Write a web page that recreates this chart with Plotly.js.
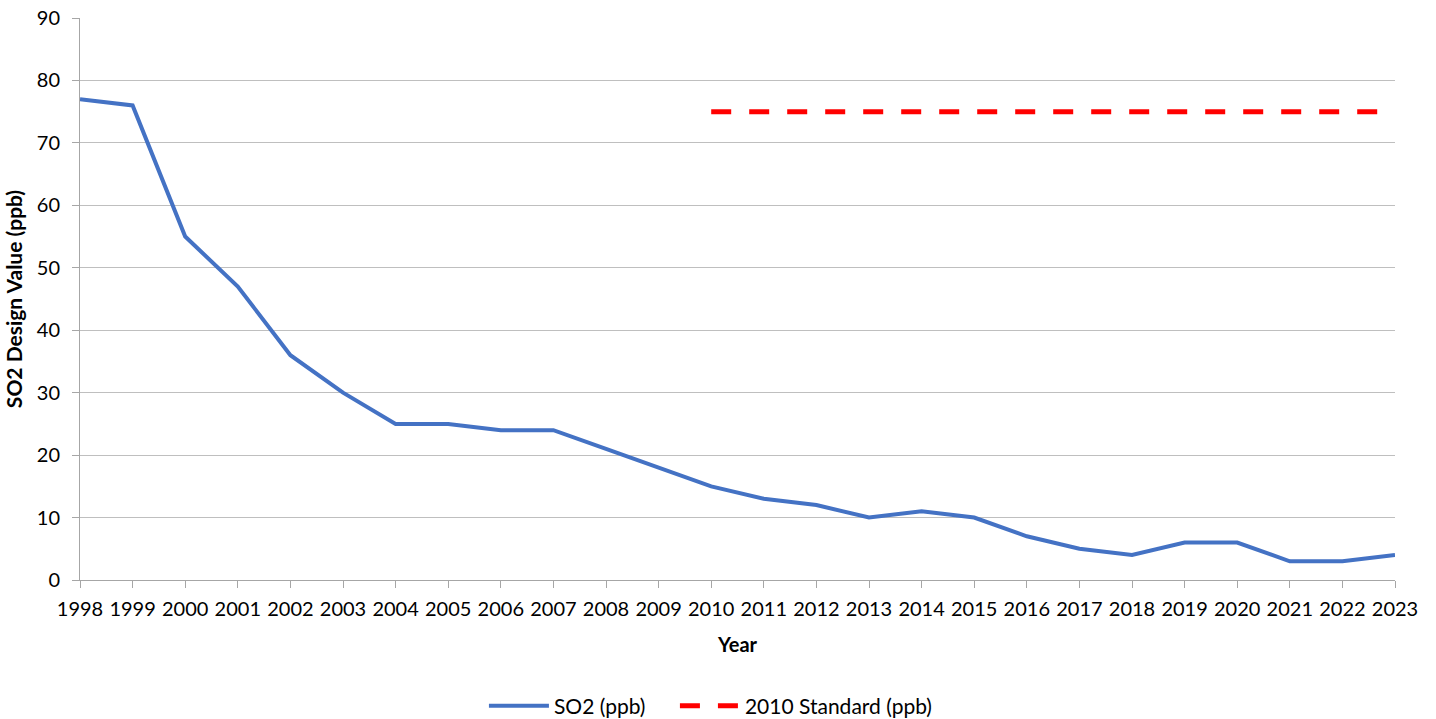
<!DOCTYPE html>
<html>
<head>
<meta charset="utf-8">
<script src="https://cdn.plot.ly/plotly-3.0.1.min.js"></script>
<style>
  html, body { margin: 0; padding: 0; background: #ffffff; }
  #chart { width: 1436px; height: 719px; }
</style>
</head>
<body>
<div id="chart"></div>
<script>
// Annual SO2 design values, 1998–2023
const years = [1998, 1999, 2000, 2001, 2002, 2003, 2004, 2005, 2006, 2007, 2008, 2009, 2010,
               2011, 2012, 2013, 2014, 2015, 2016, 2017, 2018, 2019, 2020, 2021, 2022, 2023];
const so2Values = [77, 76, 55, 47, 36, 30, 25, 25, 24, 24, 21, 18, 15,
                   13, 12, 10, 11, 10, 7, 5, 4, 6, 6, 3, 3, 4];

// 2010 one-hour standard (75 ppb), shown from 2010 onward
const standardYears = [2010, 2011, 2012, 2013, 2014, 2015, 2016, 2017, 2018, 2019, 2020, 2021, 2022, 2023];
const standardValues = [75, 75, 75, 75, 75, 75, 75, 75, 75, 75, 75, 75, 75, 75];

const yTicks = [0, 10, 20, 30, 40, 50, 60, 70, 80, 90];

const font = "Lato, 'Open Sans', sans-serif";

const traces = [
  {
    x: years,
    y: so2Values,
    type: 'scatter',
    mode: 'lines',
    name: 'SO2 (ppb)',
    legend: 'legend',
    line: { color: '#4472C4', width: 4 }
  },
  {
    x: standardYears,
    y: standardValues,
    type: 'scatter',
    mode: 'lines',
    name: '2010 Standard (ppb)',
    legend: 'legend2',
    line: { color: '#FF0000', width: 5, dash: '20px,18px' }
  }
];

// Shared legend styling; the two entries sit side by side under the axis title
const legendBase = {
  orientation: 'h',
  xref: 'container',
  yref: 'container',
  xanchor: 'left',
  y: 0.018,
  yanchor: 'middle',
  font: { family: font, size: 21, color: '#000000' },
  itemwidth: 60
};

const layout = {
  width: 1436,
  height: 719,
  paper_bgcolor: '#ffffff',
  plot_bgcolor: '#ffffff',
  margin: { l: 80, r: 41, t: 18, b: 139, autoexpand: false },
  font: { family: font, size: 20, color: '#000000' },
  showlegend: true,
  legend: Object.assign({}, legendBase, { x: 0.337 }),
  legend2: Object.assign({}, legendBase, { x: 0.470 }),
  xaxis: {
    range: [1998, 2023],
    tickmode: 'array',
    tickvals: years,
    ticktext: years.map(String),
    tickangle: 0,
    automargin: false,
    showgrid: false,
    zeroline: false,
    showline: true,
    linecolor: '#a6a6a6',
    linewidth: 1,
    ticks: 'outside',
    ticklen: 7,
    tickcolor: '#a6a6a6',
    ticklabelstandoff: 4,
    tickfont: { family: font, size: 20, color: '#000000' },
    title: {
      text: '<b>Year</b>',
      font: { family: font, size: 20, color: '#000000' },
      standoff: 18
    }
  },
  yaxis: {
    range: [0, 90],
    tickmode: 'array',
    tickvals: yTicks,
    ticktext: yTicks.map(String),
    automargin: false,
    showgrid: true,
    gridcolor: '#bfbfbf',
    gridwidth: 1,
    zeroline: false,
    showline: true,
    linecolor: '#a6a6a6',
    linewidth: 1,
    ticks: 'outside',
    ticklen: 7,
    tickcolor: '#a6a6a6',
    ticklabelstandoff: 8,
    tickfont: { family: font, size: 20, color: '#000000' },
    title: {
      text: '<b>SO2 Design Value (ppb)</b>',
      font: { family: font, size: 21, color: '#000000' },
      standoff: 8
    }
  }
};

Plotly.newPlot('chart', traces, layout, { displayModeBar: false, staticPlot: true });
</script>
</body>
</html>
